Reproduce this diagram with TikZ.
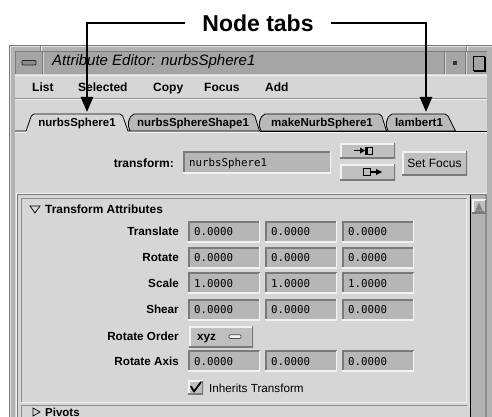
\documentclass[tikz,border=0pt]{standalone}
\usepackage{fontspec}
\setmainfont{Liberation Sans}
\newfontfamily\monofont{DejaVu Sans Mono}
\usetikzlibrary{arrows.meta}

\definecolor{framegray}{HTML}{B3B3B3}
\definecolor{titlegray}{HTML}{A5A5A5}
\definecolor{panelgray}{HTML}{D6D6D6}
\definecolor{fieldgray}{HTML}{B6B6B6}
\definecolor{tabgray}{HTML}{B9B9B9}
\definecolor{btngray}{HTML}{BFBFBF}
\definecolor{edgedark}{HTML}{7A7A7A}
\definecolor{edgelight}{HTML}{F2F2F2}
\definecolor{troughgray}{HTML}{B2B2B2}

\newcommand\guibold{\fontsize{11.7}{14}\selectfont\bfseries}
\newcommand\guiplain{\fontsize{11.7}{14}\selectfont}
\newcommand\guimono{\monofont\fontsize{10.8}{13}\selectfont}

\tikzset{
  bevel/.style 2 args={path picture={
    \draw[#1,line width=3pt] (path picture bounding box.south west)
      -- (path picture bounding box.north west) -- (path picture bounding box.north east);
    \draw[#2,line width=3pt] (path picture bounding box.north east)
      -- (path picture bounding box.south east) -- (path picture bounding box.south west);}},
  field/.style={rectangle, fill=fieldgray, bevel={edgedark}{edgelight}, text width=#1,
    inner xsep=6pt, inner ysep=0pt, minimum height=21pt, align=left, anchor=west,
    text height=8pt, text depth=0pt, font=\guimono},
  field/.default=60pt,
  raised/.style={rectangle, fill=btngray, bevel={edgelight}{edgedark}, inner sep=0pt},
  rowlabel/.style={font=\guibold, anchor=base east, inner sep=0pt},
  menuitem/.style={font=\fontsize{12}{14}\selectfont\bfseries, anchor=base west, inner sep=0pt},
  tablabel/.style={font=\fontsize{11.5}{14}\selectfont\bfseries, anchor=base, inner sep=0pt},
  activetab/.style={draw=black, line width=0.8pt, fill=panelgray},
  backtab/.style={draw=black, line width=0.8pt, fill=tabgray},
  callout/.style={line width=2.6pt, -{Triangle[length=15pt,width=12pt]}},
}

\begin{document}
\begin{tikzpicture}[x=1pt,y=-1pt]
\useasboundingbox (0,0) rectangle (492,417);
\begin{scope}
\clip (0,0) rectangle (492,417);
\fill[white] (0,0) rectangle (492,417);

% ---- window frame ----
\fill[framegray] (9,45) rectangle (500,420);
\draw[edgedark] (9.5,420) -- (9.5,45.5) -- (500,45.5);
\draw[white!60!framegray] (10.5,420) -- (10.5,46.5) -- (500,46.5);
\draw[edgedark] (40,46) -- (40,51);
\draw[edgelight] (41,46) -- (41,51);
\draw[edgedark] (466,46) -- (466,51);
\draw[edgelight] (467,46) -- (467,51);

% ---- title bar ----
\fill[titlegray] (15,51) rectangle (487,74);
\draw[edgedark] (15,74) -- (15,51.5) -- (487,51.5);
\draw[edgedark] (42.5,52) -- (42.5,74);
\draw[white!50!titlegray] (43.5,52) -- (43.5,74);
\draw[edgedark] (444.5,52) -- (444.5,74);
\draw[white!50!titlegray] (445.5,52) -- (445.5,74);
\draw[edgedark] (465.5,52) -- (465.5,74);
\draw[white!50!titlegray] (466.5,52) -- (466.5,74);
% window menu button, dot and maximise boxes
\draw[black!85, fill=black!45, line width=0.8pt, rounded corners=1pt] (22,60.5) rectangle (36,65);
\fill[black!80] (452.5,61) rectangle (456.5,65);
\draw[black, line width=0.8pt] (473,56) rectangle (484,70);
\draw[black, line width=1.6pt] (485,57) -- (485,71) -- (474,71);
\node[font=\fontsize{15}{18}\selectfont\itshape, anchor=base west, inner sep=0pt]
  (wintitle) at (52,66) {Attribute Editor: nurbsSphere1};

% ---- client area and menu bar ----
\fill[panelgray] (15,74) rectangle (487,420);
\draw[edgelight] (15,74.8) -- (487,74.8);
\draw[edgedark!80] (15,98.5) -- (487,98.5);
\draw[edgelight] (15,99.5) -- (487,99.5);
\node[menuitem] (mlist)     at (32,91.5)  {List};
\node[menuitem] (mselected) at (78,91.5)  {Selected};
\node[menuitem] (mcopy)     at (153,91.5) {Copy};
\node[menuitem] (mfocus)    at (204,91.5) {Focus};
\node[menuitem] (madd)      at (265,91.5) {Add};

% ---- node tabs ----
\draw[backtab] (130,131) .. controls (127,126) and (128,116) .. (134,114) -- (252,114)
  .. controls (254,114.3) .. (254.8,116) -- (259.5,131) -- cycle;
\draw[backtab] (261,131) .. controls (258,126) and (259,116) .. (265,114) -- (379,114)
  .. controls (381,114.3) .. (381.8,116) -- (386.5,131) -- cycle;
\draw[backtab] (388,131) .. controls (385,126) and (386,116) .. (392,114) -- (445,114)
  .. controls (447,114.3) .. (448,116) -- (455.5,131) -- cycle;
\draw[black, line width=0.8pt] (259.5,131) -- (487,131);
\fill[panelgray] (26,131) -- (31.3,116) .. controls (32,114.3) .. (34,114) -- (120,114)
  .. controls (122,114.3) .. (122.7,116) -- (128,131) -- cycle;
\draw[black, line width=0.8pt] (15,131) -- (26,131) -- (31.3,116) .. controls (32,114.3) .. (34,114)
  -- (120,114) .. controls (122,114.3) .. (122.7,116) -- (128,131) -- (130,131);
\draw[edgelight] (15,132.2) -- (26,132.2);
\draw[edgelight] (128,132.2) -- (487,132.2);
\node[tablabel] (tabone)   at (77,126.5)  {nurbsSphere1};
\node[tablabel] (tabtwo)   at (193,126.5) {nurbsSphereShape1};
\node[tablabel] (tabthree) at (322,126.5) {makeNurbSphere1};
\node[tablabel] (tabfour)  at (419,126.5) {lambert1};
\coordinate (tabA) at (87,112);
\coordinate (tabB) at (426,112);

% ---- transform name row ----
\node[rowlabel, font=\fontsize{12}{14}\selectfont\bfseries] (xflabel) at (174,167) {transform:};
\node[field=136pt, minimum height=22pt] (xffield) at (183,162) {nurbsSphere1};
\node[raised, minimum width=55pt, minimum height=15pt] (selbtn) at (367.5,150.5) {};
\node[raised, minimum width=55pt, minimum height=16pt] (copybtn) at (367.5,172) {};
\node[raised, minimum width=65pt, minimum height=24pt, font=\fontsize{12}{14}\selectfont,
  text height=8.6pt, text depth=0pt] (focusbtn) at (434.5,163) {Set Focus};
% button glyphs
\draw[black, line width=1.6pt] (354,150.5) -- (361,150.5);
\fill[black] (360,147.5) -- (365,150.5) -- (360,153.5) -- cycle;
\draw[black, line width=0.8pt] (365,147) rectangle (372,154);
\fill[black] (365,147.4) rectangle (368,153.6);
\draw[black, line width=0.8pt] (363,168.5) rectangle (370,175.5);
\draw[black, line width=1.6pt] (370,172) -- (377,172);
\fill[black] (376,169) -- (382,172) -- (376,175) -- cycle;

% ---- scrolled attribute view ----
\draw[edgedark] (17.5,420) -- (17.5,194.5) -- (487,194.5);
\draw[edgelight] (16.5,420) -- (16.5,193.5) -- (487,193.5);
\fill[troughgray] (471,195) rectangle (487,420);
\fill[black!45] (485,195) rectangle (487,420);
\draw[black, line width=1pt] (470.5,195) -- (470.5,420);
\node[raised, minimum width=14pt, minimum height=14pt] (upbtn) at (479,206.5) {};
\fill[black!50] (475.5,210.5) -- (479,202.5) -- (482.5,210.5) -- cycle;
\draw[black!50, line width=1pt] (474.5,211) -- (483.5,211);

% Transform Attributes section
\draw[edgedark!85] (21.5,402) |- (466.5,198.5);
\draw[edgelight] (466.5,198.5) |- (21.5,402.5);
\draw[black, line width=0.7pt] (30,206) -- (40,206) -- (35,213) -- cycle;
\node[font=\fontsize{11.9}{14}\selectfont\bfseries, anchor=base west, inner sep=0pt]
  (sectransform) at (45,213.5) {Transform Attributes};

\node[rowlabel] (ltranslate) at (179,235.7) {Translate};
\node[field] (ftx) at (188,231.7) {0.0000};
\node[field] (fty) at (265,231.7) {0.0000};
\node[field] (ftz) at (342,231.7) {0.0000};

\node[rowlabel] (lrotate) at (179,261.6) {Rotate};
\node[field] (frx) at (188,257.5) {0.0000};
\node[field] (fry) at (265,257.5) {0.0000};
\node[field] (frz) at (342,257.5) {0.0000};

\node[rowlabel] (lscale) at (179,287.6) {Scale};
\node[field] (fsx) at (188,283.4) {1.0000};
\node[field] (fsy) at (265,283.4) {1.0000};
\node[field] (fsz) at (342,283.4) {1.0000};

\node[rowlabel] (lshear) at (179,313.4) {Shear};
\node[field] (fhx) at (188,309.5) {0.0000};
\node[field] (fhy) at (265,309.5) {0.0000};
\node[field] (fhz) at (342,309.5) {0.0000};

\node[rowlabel] (lorder) at (179,340) {Rotate Order};
\node[raised, minimum width=64pt, minimum height=21pt] (orderbtn) at (221,336.5) {};
\node[font=\guibold, anchor=base west, inner sep=0pt] (ordertext) at (197,340.5) {xyz};
\draw[black!70, fill=edgelight, rounded corners=1pt, line width=0.7pt] (229,334.8) rectangle (241,338.4);

\node[rowlabel] (laxis) at (179,365.2) {Rotate Axis};
\node[field] (fax) at (188,361.2) {0.0000};
\node[field] (fay) at (265,361.2) {0.0000};
\node[field] (faz) at (342,361.2) {0.0000};

\node[raised, minimum width=15pt, minimum height=14pt] (inheritbox) at (195.5,387.5) {};
\draw[black, line width=1.8pt, line cap=round, line join=round] (191,386.5) -- (194,391.5) -- (201,382);
\node[font=\guiplain, anchor=base west, inner sep=0pt] (inherittext) at (209,392.7) {Inherits Transform};

% Pivots section (continues below)
\draw[edgedark!85] (21.5,420) |- (466.5,405.5);
\draw[black, line width=0.7pt] (33,408) -- (40,412) -- (33,416) -- cycle;
\node[font=\fontsize{11.5}{14}\selectfont\bfseries, anchor=base west, inner sep=0pt]
  (secpivots) at (45,416) {Pivots};

% ---- callout ----
\node[font=\fontsize{23}{27}\selectfont\bfseries, inner xsep=17pt, inner ysep=0pt]
  (nodetabs) at (258,23) {Node tabs};
\draw[callout] (nodetabs.west) -| (tabA);
\draw[callout] (nodetabs.east) -| (tabB);
\end{scope}
\end{tikzpicture}
\end{document}
